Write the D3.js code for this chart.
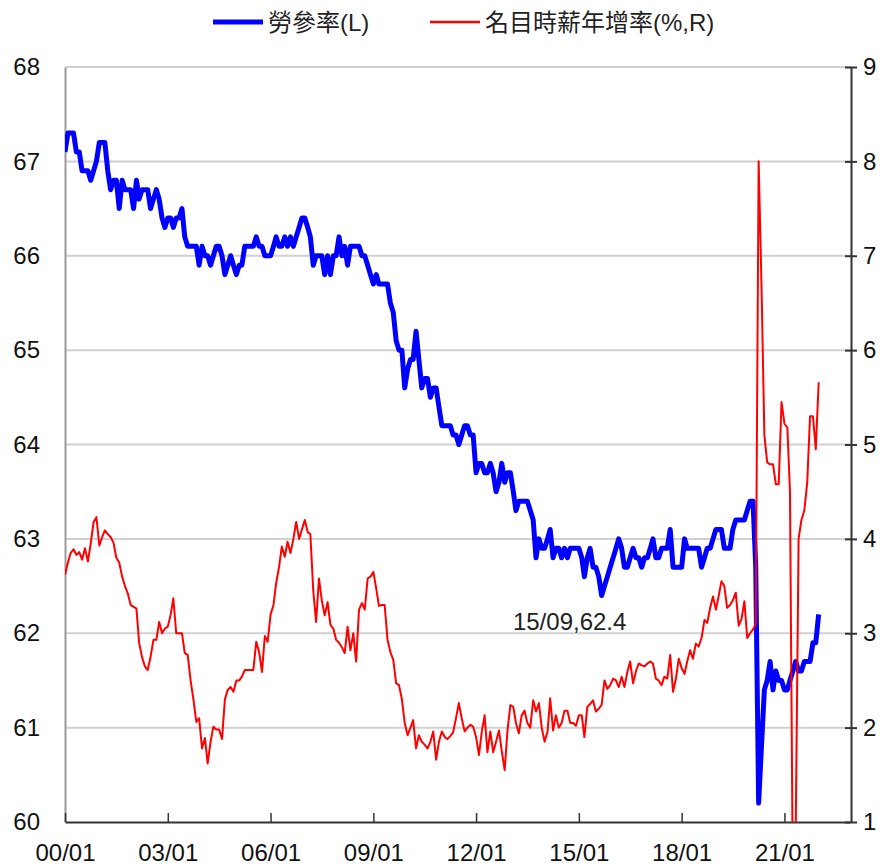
<!DOCTYPE html>
<html>
<head>
<meta charset="utf-8">
<script src="https://cdn.jsdelivr.net/npm/d3@7"></script>
<style>
  body { margin: 0; background: #fff; }
  text { font-family: "Liberation Sans", Arial, "Noto Sans CJK TC", sans-serif; }
</style>
</head>
<body>
<script>
// monthly, starting 2000/01
const startMonth = new Date(2000, 0, 1);

// labour force participation rate (%), left axis
const lfpr = [
  67.1, 67.3, 67.3, 67.3, 67.1, 67.1, 66.9, 66.9, 66.9, 66.8, 66.9, 67.0,
  67.2, 67.2, 67.2, 66.9, 66.7, 66.8, 66.8, 66.5, 66.8, 66.7, 66.7, 66.7,
  66.5, 66.8, 66.6, 66.7, 66.7, 66.7, 66.5, 66.6, 66.7, 66.6, 66.4, 66.3,
  66.4, 66.4, 66.3, 66.4, 66.4, 66.5, 66.2, 66.1, 66.1, 66.1, 66.1, 65.9,
  66.1, 66.0, 66.0, 65.9, 66.0, 66.1, 66.1, 66.0, 65.8, 65.9, 66.0, 65.9,
  65.8, 65.9, 65.9, 66.1, 66.1, 66.1, 66.1, 66.2, 66.1, 66.1, 66.0, 66.0,
  66.0, 66.1, 66.2, 66.1, 66.1, 66.2, 66.1, 66.2, 66.1, 66.2, 66.3, 66.4,
  66.4, 66.3, 66.2, 65.9, 66.0, 66.0, 66.0, 65.8, 66.0, 65.8, 66.0, 66.0,
  66.2, 66.0, 66.1, 65.9, 66.1, 66.1, 66.1, 66.1, 66.0, 66.0, 65.9, 65.8,
  65.7, 65.8, 65.7, 65.7, 65.7, 65.7, 65.5, 65.4, 65.1, 65.0, 65.0, 64.6,
  64.8, 64.9, 64.9, 65.2, 64.9, 64.6, 64.7, 64.7, 64.5, 64.6, 64.6, 64.4,
  64.2, 64.2, 64.2, 64.2, 64.1, 64.1, 64.0, 64.1, 64.2, 64.2, 64.1, 64.1,
  63.7, 63.8, 63.8, 63.7, 63.7, 63.8, 63.7, 63.5, 63.6, 63.8, 63.6, 63.7,
  63.7, 63.5, 63.3, 63.4, 63.4, 63.4, 63.4, 63.3, 63.2, 62.8, 63.0, 62.9,
  62.9, 63.0, 63.1, 62.8, 62.9, 62.9, 62.8, 62.9, 62.8, 62.9, 62.9, 62.9,
  62.9, 62.8, 62.6, 62.8, 62.9, 62.7, 62.7, 62.6, 62.4, 62.5, 62.6, 62.7,
  62.8, 62.9, 63.0, 62.9, 62.7, 62.7, 62.8, 62.9, 62.8, 62.8, 62.7, 62.8,
  62.8, 62.9, 63.0, 62.8, 62.8, 62.9, 62.9, 62.9, 63.1, 62.7, 62.7, 62.7,
  62.7, 63.0, 62.9, 62.9, 62.9, 62.9, 62.9, 62.7, 62.8, 62.9, 62.9, 63.0,
  63.1, 63.1, 63.1, 62.9, 62.9, 62.9, 63.1, 63.2, 63.2, 63.2, 63.2, 63.3,
  63.4, 63.4, 62.7, 60.2, 60.8, 61.4, 61.5, 61.7, 61.4, 61.6, 61.5, 61.5,
  61.4, 61.4, 61.5, 61.6, 61.7, 61.6, 61.6, 61.7, 61.7, 61.7, 61.9, 61.9,
  62.2
];

// nominal hourly wage growth, y/y (%), right axis
const wage = [
  3.62, 3.75, 3.85, 3.89, 3.83, 3.86, 3.78, 3.90, 3.76, 3.95, 4.18, 4.23,
  3.93, 4.02, 4.09, 4.05, 4.02, 3.96, 3.80, 3.75, 3.60, 3.50, 3.42, 3.30,
  3.28, 3.26, 2.90, 2.75, 2.65, 2.61, 2.75, 2.93, 2.93, 3.12, 3.00, 3.05,
  3.07, 3.20, 3.37, 3.00, 3.00, 3.00, 2.79, 2.77, 2.50, 2.30, 2.06, 2.10,
  1.78, 1.89, 1.62, 1.85, 2.01, 1.98, 1.98, 1.88, 2.30, 2.40, 2.43, 2.38,
  2.50, 2.50, 2.54, 2.61, 2.61, 2.61, 2.61, 2.91, 2.80, 2.59, 2.97, 2.91,
  3.20, 3.30, 3.53, 3.70, 3.92, 3.81, 3.97, 3.85, 4.00, 4.18, 4.00, 4.10,
  4.20, 4.07, 4.05, 3.45, 3.12, 3.58, 3.35, 3.19, 3.33, 3.09, 3.05, 2.93,
  2.90, 2.85, 2.79, 3.07, 2.82, 3.00, 2.70, 3.25, 3.32, 3.25, 3.58, 3.60,
  3.65, 3.47, 3.29, 3.30, 3.30, 2.93, 2.80, 2.72, 2.47, 2.45, 2.30, 2.05,
  1.92, 2.00, 2.08, 1.78, 1.92, 1.85, 1.82, 1.78, 1.85, 1.96, 1.66, 1.85,
  1.96, 1.90, 1.88, 1.91, 1.95, 2.10, 2.26, 2.10, 1.96, 2.00, 2.03, 2.01,
  1.90, 1.71, 1.95, 2.13, 1.74, 1.96, 1.74, 1.85, 1.97, 1.75, 1.55, 1.97,
  2.24, 2.22, 2.05, 1.94, 2.13, 2.18, 2.05, 2.00, 2.29, 2.17, 2.26, 2.00,
  1.85, 1.96, 2.31, 1.97, 2.13, 2.00, 2.05, 2.18, 2.18, 2.05, 2.05, 2.02,
  2.13, 2.13, 1.90, 2.22, 2.25, 2.29, 2.17, 2.20, 2.24, 2.50, 2.41, 2.45,
  2.52, 2.50, 2.43, 2.54, 2.43, 2.59, 2.70, 2.47, 2.60, 2.68, 2.66, 2.65,
  2.68, 2.70, 2.68, 2.52, 2.50, 2.45, 2.54, 2.52, 2.77, 2.38, 2.52, 2.73,
  2.63, 2.57, 2.70, 2.82, 2.73, 2.89, 2.86, 2.95, 3.14, 3.11, 3.27, 3.39,
  3.25, 3.40, 3.55, 3.50, 3.27, 3.30, 3.35, 3.43, 3.08, 3.15, 3.34, 2.95,
  3.00, 3.04, 3.10, 8.00, 6.70, 5.10, 4.81, 4.79, 4.79, 4.58, 4.58, 5.45,
  5.22, 5.18, 4.50, 0.30, 0.90, 4.00, 4.20, 4.30, 4.60, 5.30, 5.30, 4.95,
  5.66
];

const leftTicks = [60, 61, 62, 63, 64, 65, 66, 67, 68];
const rightTicks = [1, 2, 3, 4, 5, 6, 7, 8, 9];
const xTickYears = [2000, 2003, 2006, 2009, 2012, 2015, 2018, 2021];
const seriesNames = ["勞參率(L)", "名目時薪年增率(%,R)"];
const note = { year: 2015, month: 9, value: 62.4, label: "15/09,62.4" };

const W = 891, H = 868;
const mLeft = 65, mRight = 851, mTop = 67, mBottom = 822;

const dates = lfpr.map((d, i) => d3.timeMonth.offset(startMonth, i));

const x = d3.scaleTime()
  .domain([new Date(2000, 0, 1), new Date(2022, 11, 1)])
  .range([mLeft, mRight - 1]);
const yL = d3.scaleLinear().domain([60, 68]).range([mBottom, mTop]);
const yR = d3.scaleLinear().domain([1, 9]).range([mBottom, mTop]);

const svg = d3.select('body').append('svg').attr('width', W).attr('height', H);

svg.append('defs').append('clipPath').attr('id', 'plot')
  .append('rect').attr('x', mLeft).attr('y', mTop - 5)
  .attr('width', mRight - mLeft).attr('height', mBottom - mTop + 5);

// grid
svg.append('g').selectAll('line')
  .data(leftTicks.slice(1))
  .enter().append('line')
  .attr('x1', mLeft).attr('x2', mRight)
  .attr('y1', d => yL(d)).attr('y2', d => yL(d))
  .attr('stroke', '#d0d0d0').attr('stroke-width', 2);

// left axis
const gL = svg.append('g').attr('transform', `translate(${mLeft},0)`)
  .call(d3.axisLeft(yL).tickValues(leftTicks).tickSize(0).tickPadding(25).tickFormat(d3.format('d')));
gL.select('.domain').attr('stroke', '#999').attr('stroke-width', 2);

// right axis, ticks both sides
const gR = svg.append('g').attr('transform', `translate(${mRight},0)`)
  .call(d3.axisRight(yR).tickValues(rightTicks).tickSizeInner(6).tickSizeOuter(0).tickPadding(6).tickFormat(d3.format('d')));
gR.select('.domain').attr('stroke', '#333').attr('stroke-width', 2);
gR.selectAll('.tick line').attr('x1', -6).attr('stroke', '#333').attr('stroke-width', 2);

// bottom axis, ticks pointing up
const gB = svg.append('g').attr('transform', `translate(0,${mBottom})`)
  .call(d3.axisBottom(x)
    .tickValues(xTickYears.map(y => new Date(y, 0, 1)))
    .tickSizeInner(-9).tickSizeOuter(0).tickPadding(22)
    .tickFormat(d3.timeFormat('%y/%m')));
gB.select('.domain').attr('stroke', '#333').attr('stroke-width', 2);
gB.selectAll('.tick line').attr('stroke', '#333').attr('stroke-width', 1.5);

svg.selectAll('.tick text').attr('font-size', '24px').attr('fill', '#111')
  .attr('font-family', '"Liberation Sans", Arial, sans-serif');

// lines
const plot = svg.append('g').attr('clip-path', 'url(#plot)');

plot.append('path')
  .datum(lfpr)
  .attr('fill', 'none')
  .attr('stroke', '#0000ff')
  .attr('stroke-width', 5)
  .attr('stroke-linejoin', 'round')
  .attr('d', d3.line().x((d, i) => x(dates[i])).y(d => yL(d)));

plot.append('path')
  .datum(wage)
  .attr('fill', 'none')
  .attr('stroke', '#ff0000')
  .attr('stroke-width', 2)
  .attr('stroke-linejoin', 'round')
  .attr('d', d3.line().x((d, i) => x(dates[i])).y(d => yR(d)));

// annotation
const nx = x(new Date(note.year, note.month - 1, 1));
const ny = yL(note.value);
svg.append('text')
  .attr('x', nx - 32).attr('y', ny + 34)
  .attr('text-anchor', 'middle')
  .attr('font-size', '24px')
  .attr('fill', '#222')
  .text(note.label);

// legend
const legend = svg.append('g');
const legendItems = [
  { name: seriesNames[0], color: '#0000ff', width: 5, x: 213 },
  { name: seriesNames[1], color: '#ff0000', width: 2.5, x: 430 }
];
legendItems.forEach(item => {
  legend.append('line')
    .attr('x1', item.x).attr('x2', item.x + 50)
    .attr('y1', 22).attr('y2', 22)
    .attr('stroke', item.color).attr('stroke-width', item.width);
  legend.append('text')
    .attr('x', item.x + 55).attr('y', 31)
    .attr('font-size', '24px')
    .attr('fill', '#222')
    .attr('font-family', '"Liberation Sans", "Noto Sans CJK TC", sans-serif')
    .text(item.name);
});
</script>
</body>
</html>
